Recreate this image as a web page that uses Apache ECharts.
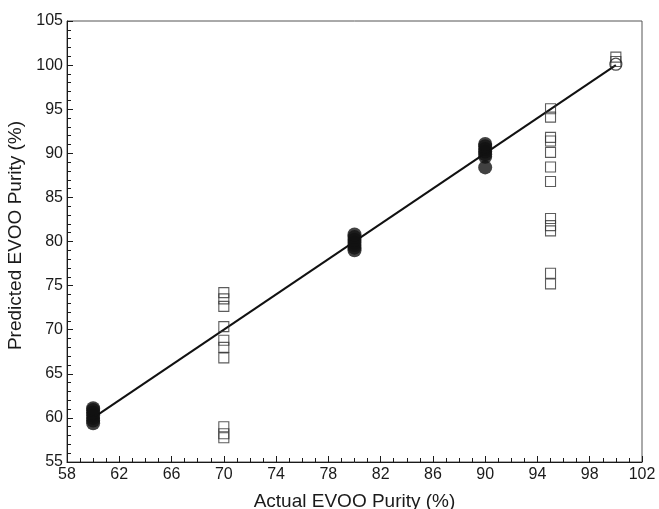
<!DOCTYPE html>
<html>
<head>
<meta charset="utf-8">
<script src="https://cdn.jsdelivr.net/npm/echarts@6/dist/echarts.min.js"></script>
<style>
  html, body { margin: 0; padding: 0; background: #fff; }
  #chart { width: 659px; height: 509px; }
</style>
</head>
<body>
<div id="chart"></div>
<script>
// calibration set (filled circles)
var calActual = [60, 60, 60, 60, 60, 60, 60,
                 80, 80, 80, 80, 80, 80, 80,
                 90, 90, 90, 90, 90, 90, 90];
var calPredicted = [59.4, 59.7, 60.0, 60.3, 60.6, 60.9, 61.1,
                    79.0, 79.3, 79.6, 79.9, 80.2, 80.5, 80.8,
                    88.4, 89.6, 89.9, 90.2, 90.5, 90.8, 91.05];

// prediction set (open squares)
var valActual = [70, 70, 70, 70, 70, 70, 70, 70, 70, 70,
                 95, 95, 95, 95, 95, 95, 95, 95, 95, 95, 95, 95,
                 100, 100];
var valPredicted = [74.2, 73.5, 72.65, 70.35, 68.8, 68.0, 66.8, 59.0, 58.2, 57.75,
                    95.05, 94.1, 91.8, 91.4, 90.1, 88.45, 86.8, 82.6, 81.8, 81.2, 76.4, 75.2,
                    100.9, 100.4];

// open circle at 100
var refActual = [100];
var refPredicted = [100.1];

// fitted line
var lineX = [60, 100];
var lineY = [60, 100];

var xTicks = { min: 58, max: 102, interval: 4 };
var yTicks = { min: 55, max: 105, interval: 5 };

function pairs(xs, ys) {
  return xs.map(function (x, i) { return [x, ys[i]]; });
}

var font = "'Liberation Sans', Arial, sans-serif";
var chart = echarts.init(document.getElementById("chart"));
var option = {
  backgroundColor: "#fff",
  animation: false,
  grid: {
    left: 67,
    right: 17,
    top: 21,
    bottom: 47,
    outerBoundsMode: "none",
    show: true,
    borderColor: "#555",
    borderWidth: 1,
  },
  xAxis: {
    type: "value",
    min: xTicks.min,
    max: xTicks.max,
    interval: xTicks.interval,
    name: "Actual EVOO Purity (%)",
    nameLocation: "middle",
    nameGap: 30,
    nameTextStyle: { fontFamily: font, fontSize: 19, color: "#1a1a1a" },
    axisLine: { lineStyle: { color: "#1a1a1a", width: 1 } },
    axisTick: { inside: true, length: 6, lineStyle: { color: "#1a1a1a" } },
    minorTick: { show: true, splitNumber: 4, length: 4, lineStyle: { color: "#1a1a1a" } },
    axisLabel: { fontFamily: font, fontSize: 16, color: "#1a1a1a", margin: 5 },
    splitLine: { show: false },
  },
  yAxis: {
    type: "value",
    min: yTicks.min,
    max: yTicks.max,
    interval: yTicks.interval,
    name: "Predicted EVOO Purity (%)",
    nameLocation: "middle",
    nameGap: 36,
    nameTextStyle: { fontFamily: font, fontSize: 19, color: "#1a1a1a", padding: [0, 0, 0, 12] },
    axisLine: { lineStyle: { color: "#1a1a1a", width: 1 } },
    axisTick: { inside: true, length: 6, lineStyle: { color: "#1a1a1a" } },
    minorTick: { show: true, splitNumber: 5, length: 4, lineStyle: { color: "#1a1a1a" } },
    axisLabel: { fontFamily: font, fontSize: 16, color: "#1a1a1a", margin: 4 },
    splitLine: { show: false },
  },
  series: [
    {
      type: "line",
      data: pairs(lineX, lineY),
      symbol: "none",
      lineStyle: { color: "#111", width: 2 },
      z: 2,
    },
    {
      type: "scatter",
      data: pairs(valActual, valPredicted),
      symbol: "rect",
      symbolSize: 10,
      itemStyle: { color: "rgba(0,0,0,0)", borderColor: "#333", borderWidth: 1.1 },
      z: 3,
    },
    {
      type: "scatter",
      data: pairs(refActual, refPredicted),
      symbol: "circle",
      symbolSize: 12,
      itemStyle: { color: "rgba(0,0,0,0)", borderColor: "#222", borderWidth: 1.2 },
      z: 3,
    },
    {
      type: "scatter",
      data: pairs(calActual, calPredicted),
      symbol: "circle",
      symbolSize: 14,
      itemStyle: { color: "#111" },
      z: 4,
    },
  ],
};
chart.setOption(option);
</script>
</body>
</html>
